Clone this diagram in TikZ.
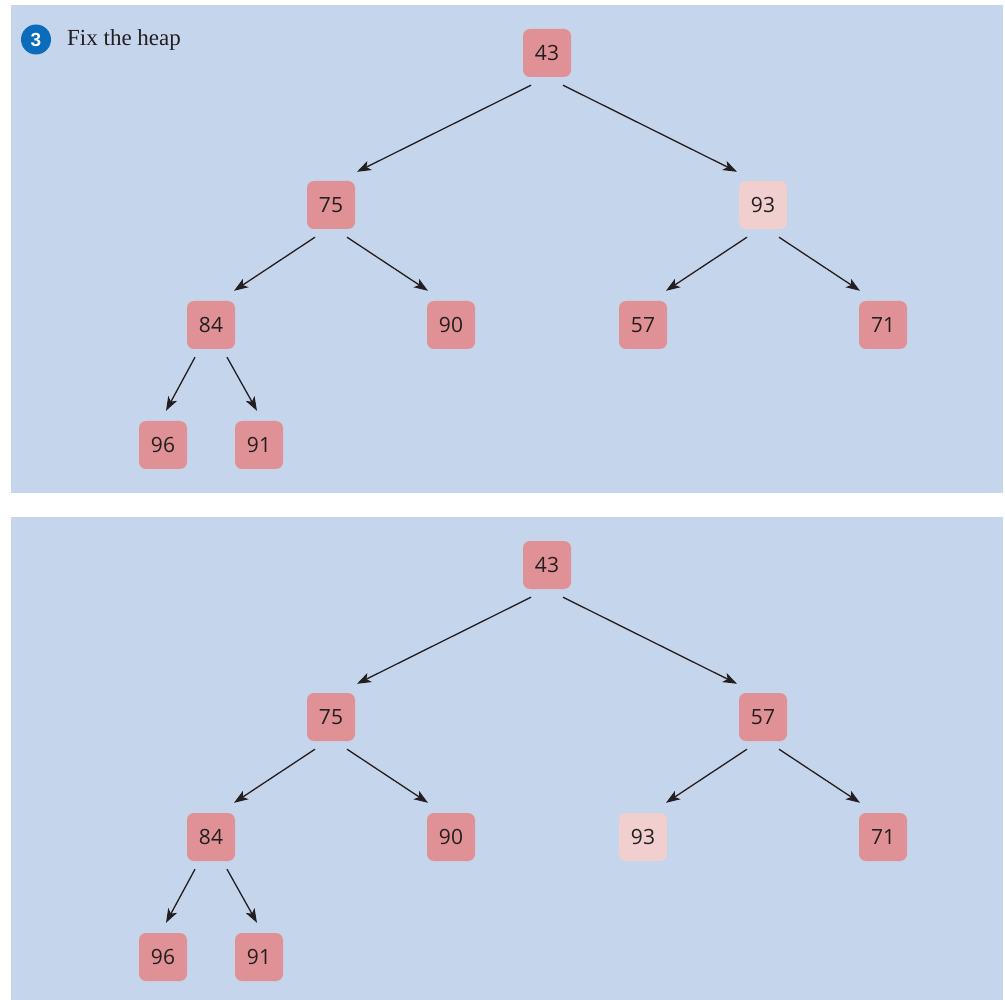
\documentclass[tikz,border=0pt]{standalone}
\usepackage{fontspec}
\setmainfont{Liberation Serif}
\newfontfamily\nodefont{Open Sans}
\newfontfamily\badgefont{Liberation Sans}
\usetikzlibrary{arrows.meta,calc}
\definecolor{panelbg}{RGB}{197,213,236}
\definecolor{nodedark}{RGB}{224,145,150}
\definecolor{nodelight}{RGB}{242,207,207}
\definecolor{badgeblue}{RGB}{10,108,186}
\definecolor{txt}{RGB}{35,31,32}
\begin{document}
\begin{tikzpicture}[x=1pt,y=-1pt,
  heapnode/.style={fill=nodedark, rounded corners=7pt, minimum width=48pt, minimum height=48pt, inner sep=0pt, text=txt, font=\nodefont\fontsize{21}{25}\selectfont},
  hotnode/.style={heapnode, fill=nodelight},
  link/.style={draw=txt, line width=1.3pt, -{Stealth[length=14pt,width=10pt,inset=3.5pt]}},
  panel/.style={fill=panelbg, draw=none}]
\useasboundingbox (0,0) rectangle (1005,1000);
\fill[white] (0,0) rectangle (1005,1000);
\fill[panel] (11,5) rectangle (1003,492.5);
\fill[panel] (11,517) rectangle (1003,1000);

% title
\node[circle, fill=badgeblue, minimum size=30pt, inner sep=0pt, text=white,
  font=\badgefont\bfseries\fontsize{19}{19}\selectfont] (badge) at (36,39.5) {3};
\node[anchor=base west, inner sep=0pt, text=txt, font=\fontsize{23}{26}\selectfont] (title) at (67,46) {Fix the heap};

% top tree
\node[heapnode] (t43) at (547,53) {43};
\node[heapnode] (t75) at (331,205) {75};
\node[hotnode]  (t93) at (763,205) {93};
\node[heapnode] (t84) at (211,325) {84};
\node[heapnode] (t90) at (451,325) {90};
\node[heapnode] (t57) at (643,325) {57};
\node[heapnode] (t71) at (883,325) {71};
\node[heapnode] (t96) at (163,445) {96};
\node[heapnode] (t91) at (259,445) {91};

\draw[link] ($(t43.south)+(-16,8)$) -- ($(t75.north)+(26,-9)$);
\draw[link] ($(t43.south)+(16,8)$) -- ($(t93.north)+(-26,-9)$);
\draw[link] ($(t75.south)+(-16,8)$) -- ($(t84.north)+(23,-10)$);
\draw[link] ($(t75.south)+(16,8)$) -- ($(t90.north)+(-23,-10)$);
\draw[link] ($(t93.south)+(-16,8)$) -- ($(t57.north)+(23,-10)$);
\draw[link] ($(t93.south)+(16,8)$) -- ($(t71.north)+(-23,-10)$);
\draw[link] ($(t84.south)+(-16,8)$) -- ($(t96.north)+(3,-10)$);
\draw[link] ($(t84.south)+(16,8)$) -- ($(t91.north)+(-2,-10)$);

% bottom tree
\node[heapnode] (b43) at (547,565) {43};
\node[heapnode] (b75) at (331,717) {75};
\node[heapnode] (b57) at (763,717) {57};
\node[heapnode] (b84) at (211,837) {84};
\node[heapnode] (b90) at (451,837) {90};
\node[hotnode]  (b93) at (643,837) {93};
\node[heapnode] (b71) at (883,837) {71};
\node[heapnode] (b96) at (163,957) {96};
\node[heapnode] (b91) at (259,957) {91};

\draw[link] ($(b43.south)+(-16,8)$) -- ($(b75.north)+(26,-9)$);
\draw[link] ($(b43.south)+(16,8)$) -- ($(b57.north)+(-26,-9)$);
\draw[link] ($(b75.south)+(-16,8)$) -- ($(b84.north)+(23,-10)$);
\draw[link] ($(b75.south)+(16,8)$) -- ($(b90.north)+(-23,-10)$);
\draw[link] ($(b57.south)+(-16,8)$) -- ($(b93.north)+(23,-10)$);
\draw[link] ($(b57.south)+(16,8)$) -- ($(b71.north)+(-23,-10)$);
\draw[link] ($(b84.south)+(-16,8)$) -- ($(b96.north)+(3,-10)$);
\draw[link] ($(b84.south)+(16,8)$) -- ($(b91.north)+(-2,-10)$);
\end{tikzpicture}
\end{document}
